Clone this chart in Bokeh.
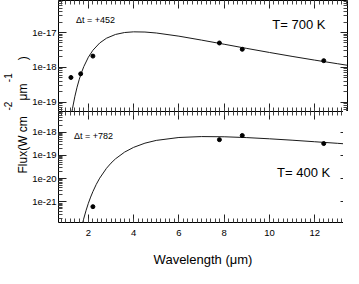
import math
from bokeh.plotting import figure
from bokeh.models import (Range1d, LinearAxis, LogAxis, FixedTicker, SingleIntervalTicker,
                          CustomJSTickFormatter, Label, Title)
from bokeh.layouts import column
from bokeh.embed import file_html
from bokeh.resources import INLINE

# ---------------- data ----------------
wave_obs_700 = [1.23, 1.66, 2.2, 7.79, 8.8, 12.4]
flux_obs_700 = [5.1e-19, 6.5e-19, 2.1e-18, 5.0e-18, 3.3e-18, 1.55e-18]

wave_obs_400 = [2.2, 7.79, 8.8, 12.4]
flux_obs_400 = [6.3e-22, 4.7e-19, 7.1e-19, 3.2e-19]

wave_model_700 = [1.25, 1.3, 1.4, 1.5, 1.6, 1.7, 1.8, 2.0, 2.2, 2.5, 2.8, 3.2, 3.6, 4.0,
                  4.5, 5.0, 6.0, 7.0, 8.0, 9.0, 10.0, 11.0, 12.0, 13.0, 13.5]
flux_model_700 = [4.3e-20, 6.65e-20, 1.42e-19, 2.68e-19, 4.57e-19, 7.17e-19, 1.056e-18,
                  1.95e-18, 3.09e-18, 5.0e-18, 6.85e-18, 8.8e-18, 9.99e-18, 1.046e-17,
                  1.032e-17, 9.69e-18, 7.85e-18, 6.05e-18, 4.6e-18, 3.49e-18, 2.67e-18,
                  2.06e-18, 1.61e-18, 1.27e-18, 1.13e-18]

wave_model_400 = [1.7, 1.8, 1.9, 2.0, 2.1, 2.2, 2.35, 2.5, 2.8, 3.0, 3.2, 3.6, 4.0, 4.5,
                  5.0, 6.0, 7.0, 8.0, 9.0, 10.0, 11.0, 12.0, 13.0, 13.5]
flux_model_400 = [8.3e-23, 2.0e-22, 4.4e-22, 8.8e-22, 1.62e-21, 2.79e-21, 5.7e-21,
                  1.05e-20, 2.78e-20, 4.64e-20, 7.1e-20, 1.375e-19, 2.2e-19, 3.33e-19,
                  4.37e-19, 5.83e-19, 6.38e-19, 6.25e-19, 5.76e-19, 5.12e-19, 4.46e-19,
                  3.83e-19, 3.28e-19, 3.03e-19]

x_ticks_interval = 2
y_major_ticks = [1e-22, 1e-21, 1e-20, 1e-19, 1e-18, 1e-17, 1e-16]

label_dt_700 = "\u0394t = +452"
label_dt_400 = "\u0394t = +782"
label_T_700 = "T= 700 K"
label_T_400 = "T= 400 K"
x_title = "Wavelength (\u03bcm)"
NB = "\u00a0"
y_title_main = "Flux(W cm"
y_title_rest = "\u03bcm" + NB * 7 + ")"
y_title_sups = "-2" + NB * 7 + "-1"

FONT = "Liberation Sans"
FRAME_H = 111
FRAME_W = 289
LEFT = 52

# ---------------- helpers ----------------
x_range = Range1d(0.68, 13.45)
minor_y = [m * 10.0 ** e for e in range(-23, -15) for m in range(2, 10)]


def x_ticker():
    return SingleIntervalTicker(interval=x_ticks_interval, num_minor_ticks=10)


def y_ticker():
    return FixedTicker(ticks=y_major_ticks, minor_ticks=minor_y)


def style_axis(ax, show_labels, major_in=8, minor_in=4):
    ax.axis_line_color = "black"
    ax.axis_line_width = 1
    ax.major_tick_line_color = "#222222"
    ax.minor_tick_line_color = "#444444"
    ax.major_tick_in = major_in
    ax.major_tick_out = 0
    ax.minor_tick_in = minor_in
    ax.minor_tick_out = 0
    ax.major_label_text_font = FONT
    ax.major_label_text_color = "black"
    if show_labels:
        ax.major_label_text_font_size = "9.5px"
    else:
        ax.formatter = CustomJSTickFormatter(code="return '';")
        ax.major_label_text_font_size = "1px"
        ax.major_label_standoff = 0


def make_panel(y_lo, y_hi, show_x_labels):
    p = figure(frame_width=FRAME_W, frame_height=FRAME_H, x_range=x_range,
               y_range=Range1d(y_lo, y_hi), y_axis_type="log",
               output_backend="svg", toolbar_location=None,
               min_border_left=LEFT, min_border_right=2, min_border_top=0,
               min_border_bottom=0, background_fill_color="white",
               border_fill_color="white", outline_line_color=None)
    p.grid.visible = False
    p.xaxis.ticker = x_ticker()
    p.yaxis.ticker = y_ticker()
    p.yaxis.formatter = CustomJSTickFormatter(
        code="return '1e' + Math.round(Math.log10(tick)).toString();")
    style_axis(p.yaxis[0], True)
    p.yaxis[0].major_label_standoff = 2
    style_axis(p.xaxis[0], show_x_labels)
    if show_x_labels:
        p.xaxis[0].major_label_standoff = 7
    top_ax = LinearAxis(ticker=x_ticker())
    style_axis(top_ax, False)
    p.add_layout(top_ax, "above")
    right_ax = LogAxis(ticker=y_ticker())
    style_axis(right_ax, False, major_in=7)
    p.add_layout(right_ax, "right")
    return p


def side_title(p, text, offset, size, standoff):
    p.add_layout(Title(text=text, align="left", offset=offset, text_font=FONT,
                       text_font_size=size, text_font_style="normal",
                       text_color="black", standoff=standoff), "left")


# ---------------- top panel (700 K) ----------------
top = make_panel(10 ** -19.27, 10 ** -16.08, False)
top.line(wave_model_700, flux_model_700, line_color="#1a1a1a", line_width=1)
top.scatter(wave_obs_700, flux_obs_700, size=4, color="black")
top.add_layout(Label(x=1.45, y=10 ** -16.65, text=label_dt_700, text_font=FONT,
                     text_font_size="9px", text_baseline="middle", text_color="black"))
top.add_layout(Label(x=10.13, y=10 ** -16.78, text=label_T_700, text_font=FONT,
                     text_font_size="13px", text_baseline="middle", text_color="black"))
side_title(top, y_title_rest, 11, "12px", 0)
side_title(top, y_title_sups, 1, "10px", 0)

# ---------------- bottom panel (400 K) ----------------
bottom = make_panel(10 ** -21.88, 10 ** -17.12, True)
bottom.line(wave_model_400, flux_model_400, line_color="#1a1a1a", line_width=1)
bottom.scatter(wave_obs_400, flux_obs_400, size=4, color="black")
bottom.add_layout(Label(x=1.36, y=10 ** -18.16, text=label_dt_400, text_font=FONT,
                        text_font_size="9px", text_baseline="middle", text_color="black"))
bottom.add_layout(Label(x=10.34, y=10 ** -19.72, text=label_T_400, text_font=FONT,
                        text_font_size="13px", text_baseline="middle", text_color="black"))
side_title(bottom, y_title_main, 49, "12px", 0)
xa = bottom.below[0]
xa.axis_label = x_title
xa.axis_label_text_font = FONT
xa.axis_label_text_font_size = "13px"
xa.axis_label_text_font_style = "normal"
xa.axis_label_text_color = "black"
xa.axis_label_standoff = 13

layout = column(top, bottom, spacing=0)

open("out.html", "w").write(file_html(layout, INLINE))
